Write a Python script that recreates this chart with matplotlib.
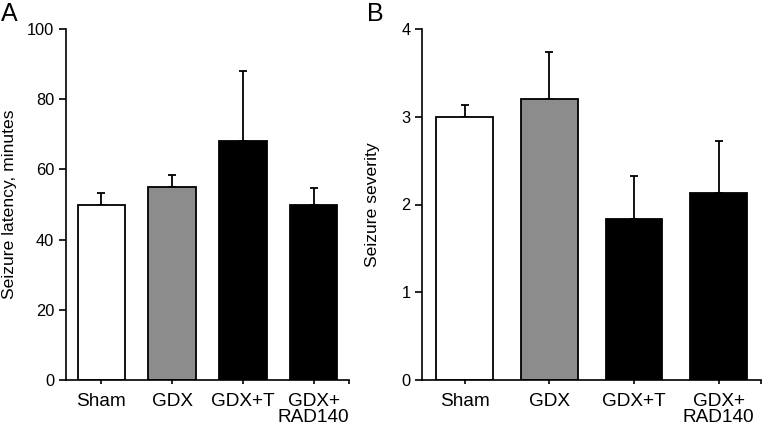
import matplotlib
matplotlib.use("Agg")
import matplotlib.pyplot as plt
import numpy as np

plt.rcParams['font.family'] = ['Liberation Sans', 'DejaVu Sans']

categories = ["Sham", "GDX", "GDX+T", "GDX+\nRAD140"]
latency = [50.0, 54.9, 68.2, 49.9]
latency_err = [3.3, 3.5, 19.8, 4.8]
severity = [3.0, 3.2, 1.84, 2.13]
severity_err = [0.13, 0.54, 0.49, 0.59]
colors = ["white", "#8c8c8c", "black", "black"]

fig = plt.figure(figsize=(7.62, 4.30), dpi=100)
axA = fig.add_axes([66/762, 50/430, (349-66)/762, (380-29)/430])
axB = fig.add_axes([422.3/762, 50/430, (761-422.3)/762, (380-29)/430])

def draw(ax, vals, errs, ylim, yticks, ylabel):
    x = np.arange(len(categories))
    ax.bar(x, vals, width=0.67, color=colors, edgecolor="black", linewidth=1.3, zorder=2)
    ax.errorbar(x, vals, yerr=[np.zeros(len(errs)), errs], fmt="none", ecolor="black",
                elinewidth=1.3, capsize=3.2, capthick=1.3, zorder=1)
    ax.set_xlim(-0.5, 3.5)
    ax.set_ylim(*ylim)
    ax.set_yticks(yticks)
    ax.set_xticks(list(x) + [3.5])
    ax.set_xticklabels(categories + [""], fontsize=13.7, linespacing=1.0)
    ax.tick_params(axis='y', labelsize=11.8, length=5, width=1.2, direction='out', pad=3.5)
    ax.tick_params(axis='x', length=3, width=1.2, direction='out', pad=6)
    ax.spines['top'].set_visible(False)
    ax.spines['right'].set_visible(False)
    ax.spines['left'].set_linewidth(1.2)
    ax.spines['bottom'].set_linewidth(1.2)
    ax.set_ylabel(ylabel, fontsize=12.6)

draw(axA, latency, latency_err, (0, 100), [0, 20, 40, 60, 80, 100], "Seizure latency, minutes")
draw(axB, severity, severity_err, (0, 4), [0, 1, 2, 3, 4], "Seizure severity")
axA.yaxis.set_label_coords(-(66 - 17) / 283, 0.5)
axB.yaxis.set_label_coords(-(422.3 - 380) / 338.7, 0.5)

fig.text(0.5/762, 1 - 21/430, "A", fontsize=18, ha="left", va="baseline")
fig.text(367/762, 1 - 21/430, "B", fontsize=18, ha="left", va="baseline")

fig.savefig("out.png", dpi=100)
